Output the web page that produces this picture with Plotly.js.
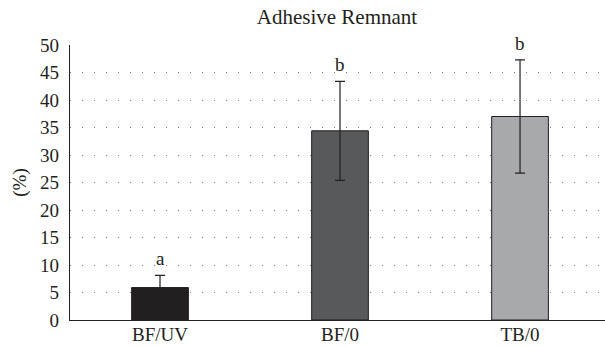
<!DOCTYPE html>
<html>
<head>
<meta charset="utf-8">
<script src="https://cdn.plot.ly/plotly-3.0.1.min.js"></script>
<style>html,body{margin:0;padding:0;background:#fff;}#chart{width:605px;height:347px;}</style>
</head>
<body>
<div id="chart"></div>
<script>
const categories = ["BF/UV", "BF/0", "TB/0"];
const values = [5.9, 34.4, 37.0];
const errors = [2.2, 9.0, 10.3];
const letters = ["a", "b", "b"];
const barColors = ["#231f20", "#58595b", "#a7a9ac"];

const font = "Liberation Serif, Times New Roman, serif";

const trace = {
  type: "bar",
  x: categories,
  y: values,
  width: 0.315,
  marker: { color: barColors, line: { color: "#231f20", width: 1 } },
  error_y: { type: "data", array: errors, visible: true, color: "#231f20", thickness: 1.2, width: 5 },
  hoverinfo: "none"
};

const annotations = categories.map((c, i) => ({
  x: c, y: values[i] + errors[i], xref: "x", yref: "y", text: letters[i], showarrow: false,
  yanchor: "bottom", yshift: 4, font: { family: font, size: 19, color: "#231f20" }
}));

const layout = {
  width: 605, height: 347,
  margin: { l: 70, r: 0, t: 45, b: 27, pad: 0 },
  paper_bgcolor: "#fff", plot_bgcolor: "#fff",
  showlegend: false,
  title: { text: "Adhesive Remnant", x: 0.557, xanchor: "center", y: 0.952, yanchor: "middle",
           font: { family: font, size: 21, color: "#231f20" } },
  xaxis: {
    range: [-0.5, 2.472], showgrid: false, zeroline: false,
    showline: true, linecolor: "#231f20", linewidth: 1.2, ticks: "",
    tickfont: { family: font, size: 19, color: "#231f20" }, ticklabelstandoff: -3, fixedrange: true
  },
  yaxis: {
    range: [0, 50], tickvals: [0,5,10,15,20,25,30,35,40,45,50], ticks: "",
    showline: true, linecolor: "#231f20", linewidth: 1.2, zeroline: false,
    showgrid: true, gridcolor: "#777777", gridwidth: 1, griddash: "1px,11px",
    tickfont: { family: font, size: 19, color: "#231f20" }, ticklabelstandoff: 6,
    title: { text: "(%)", font: { family: font, size: 19, color: "#231f20" }, standoff: 8 },
    fixedrange: true
  },
  annotations: annotations
};

Plotly.newPlot("chart", [trace], layout, { displayModeBar: false, staticPlot: true });
</script>
</body>
</html>
